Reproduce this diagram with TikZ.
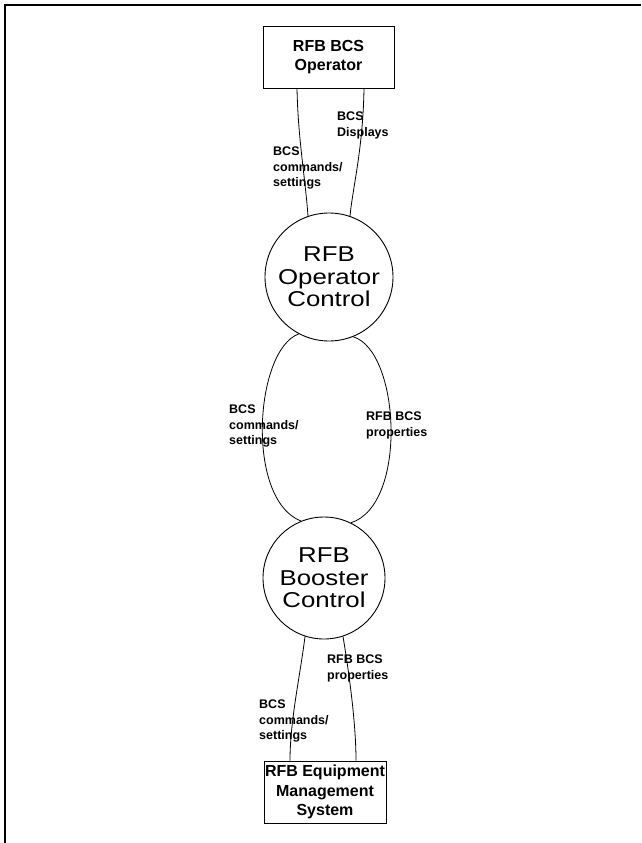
\documentclass[tikz,border=0pt]{standalone}
\usepackage{fontspec}
\setmainfont{Liberation Sans}
\newfontfamily\circfont[FakeStretch=1.2]{Liberation Sans}
\begin{document}
\begin{tikzpicture}[x=1pt,y=-1pt,
  wire/.style={line width=0.8pt},
  proc/.style={circle, draw, line width=0.9pt, inner sep=0pt, align=center,
    font=\circfont\fontsize{21.5}{22.5}\selectfont},
  term/.style={draw, line width=0.8pt, inner sep=0pt, align=center,
    font=\bfseries\fontsize{16}{19.5}\selectfont},
  lbl/.style={anchor=north west, inner sep=0pt, align=left,
    font=\bfseries\fontsize{12.5}{15.2}\selectfont},
  frameline/.style={line width=1.8pt}]
\useasboundingbox (0,0) rectangle (641,843);
% frame (top and left edges only)
\coordinate (tl) at (5,5);
\coordinate (tr) at (641,5);
\coordinate (bl) at (5,843);
\draw[frameline] (tr) -- (tl) -- (bl);
% nodes
\node[term, minimum width=131pt, minimum height=62pt] (op) at (328.5,57) {RFB BCS\\Operator};
\node[proc, minimum size=128pt] (oc) at (329,277) {RFB\\Operator\\Control};
\node[proc, minimum size=122pt] (bc) at (324,578) {RFB\\Booster\\Control};
\node[term, minimum width=122pt, minimum height=62pt] (em) at (325,792) {RFB Equipment\\Management\\System};
% connectors operator <-> operator control
\draw[wire] ([xshift=-31.5pt]op.south) .. controls +(1,50) and +(-3,-40) .. (oc.109);
\draw[wire] ([xshift=35.5pt]op.south) .. controls +(-1,60) and +(3,-30) .. (oc.71);
% loop between the two circles
\draw[wire] (oc.242) .. controls +(-44,16) and +(-56,-22) .. (bc.112);
\draw[wire] (oc.292) .. controls +(47,14) and +(57,-18) .. (bc.64);
% connectors booster control <-> equipment management
\draw[wire] (bc.252) .. controls +(-5,40) and +(0,-40) .. ([xshift=-35pt]em.north);
\draw[wire] (bc.288) .. controls +(5,30) and +(0,-40) .. ([xshift=31pt]em.north);
% labels
\node[lbl] (l1) at (337,112) {BCS\\Displays};
\node[lbl] (l2) at (273,147) {BCS\\commands/\\settings};
\node[lbl] (l3) at (229,405) {BCS\\commands/\\settings};
\node[lbl] (l4) at (366,412) {RFB BCS\\properties};
\node[lbl] (l5) at (327,655) {RFB BCS\\properties};
\node[lbl] (l6) at (259,700) {BCS\\commands/\\settings};
\end{tikzpicture}
\end{document}
